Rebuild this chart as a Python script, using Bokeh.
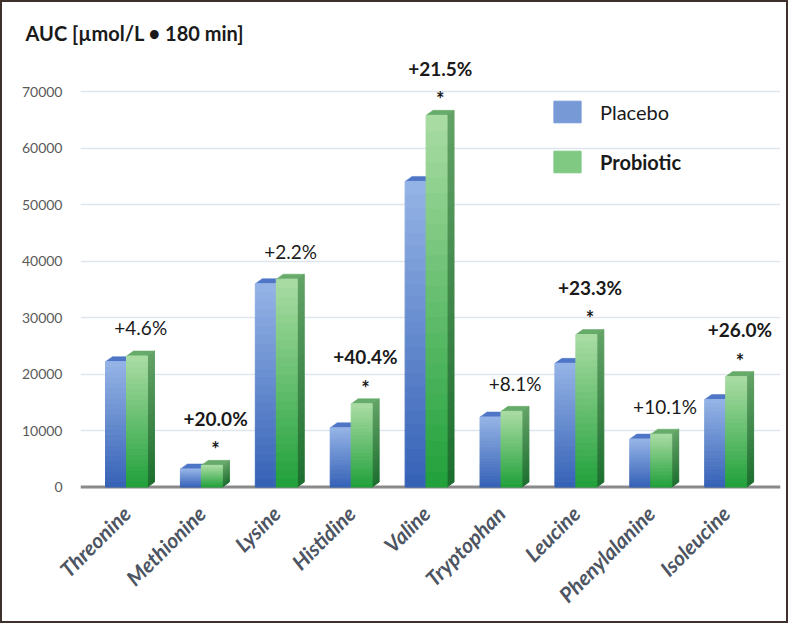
import math
from bokeh.plotting import figure
from bokeh.models import ColumnDataSource, Range1d, FixedTicker, Legend, LegendItem, Span
from bokeh.core.properties import value
from bokeh.embed import file_html
from bokeh.resources import INLINE

# ---------------- data ----------------
amino_acids = ["Threonine", "Methionine", "Lysine", "Histidine", "Valine",
               "Tryptophan", "Leucine", "Phenylalanine", "Isoleucine"]
placebo = [22200, 3200, 36000, 10500, 54100, 12400, 21900, 8500, 15500]
probiotic = [23200, 3840, 36800, 14750, 65800, 13400, 27000, 9360, 19550]
change_labels = ["+4.6%", "+20.0%", "+2.2%", "+40.4%", "+21.5%",
                 "+8.1%", "+23.3%", "+10.1%", "+26.0%"]
significant = [False, True, False, True, True, False, True, False, True]
y_ticks = [0, 10000, 20000, 30000, 40000, 50000, 60000, 70000]
series_names = ["Placebo", "Probiotic"]

# ---------------- style ----------------
FONT = "Lato"
BAR_HALF = 0.14          # half width of one bar (category units)
DX = 0.093               # 3D depth in x (category units)
DY = 880                 # 3D depth in y (data units)
N = 24                   # gradient slices

PLA_BOTTOM, PLA_TOP = "#3561b6", "#95b4e6"
PRO_BOTTOM, PRO_TOP = "#20a03a", "#aadca4"
PRO_SIDE_BOTTOM, PRO_SIDE_TOP = "#1c6e2e", "#62a266"
PLA_CAP, PRO_CAP = "#4f76c6", "#66ab69"


def hex2rgb(h):
    return tuple(int(h[i:i + 2], 16) for i in (1, 3, 5))


def mix(c0, c1, t):
    a, b = hex2rgb(c0), hex2rgb(c1)
    return "#%02x%02x%02x" % tuple(int(round(a[j] + (b[j] - a[j]) * t)) for j in range(3))


idx = list(range(len(amino_acids)))


def front_source(offset, vals, c_bot, c_top):
    d = dict(left=[], right=[], bottom=[], top=[], color=[])
    for i, v in zip(idx, vals):
        for k in range(N):
            d["left"].append(i + offset - BAR_HALF)
            d["right"].append(i + offset + BAR_HALF)
            d["bottom"].append(v * k / N)
            d["top"].append(v * (k + 1) / N)
            d["color"].append(mix(c_bot, c_top, (k + 0.5) / N))
    return ColumnDataSource(d)


def side_source(offset, vals, c_bot, c_top):
    d = dict(xs=[], ys=[], color=[])
    for i, v in zip(idx, vals):
        xr = i + offset + BAR_HALF
        for k in range(N):
            b, t = v * k / N, v * (k + 1) / N
            d["xs"].append([xr, xr + DX, xr + DX, xr])
            d["ys"].append([b, b + DY, t + DY, t])
            d["color"].append(mix(c_bot, c_top, (k + 0.5) / N))
    return ColumnDataSource(d)


def cap_source(offset, vals):
    d = dict(xs=[], ys=[])
    for i, v in zip(idx, vals):
        xl, xr = i + offset - BAR_HALF, i + offset + BAR_HALF
        d["xs"].append([xl, xl + DX, xr + DX, xr])
        d["ys"].append([v, v + DY, v + DY, v])
    return ColumnDataSource(d)


# ---------------- figure ----------------
W, H = 788, 623
p = figure(width=W, height=H, output_backend="svg", toolbar_location=None,
           x_range=Range1d(-0.614, 8.732), y_range=Range1d(-1500, 75500),
           min_border_left=78, min_border_right=10, min_border_top=58,
           min_border_bottom=130)
p.styles = {"border": "2px solid #3e302b"}
p.outline_line_color = None
p.background_fill_color = "white"
p.border_fill_color = "white"

p.title.text = "AUC [µmol/L • 180 min]"
p.title.text_font = FONT
p.title.text_font_size = "20px"
p.title.text_font_style = "bold"
p.title.text_color = "#1a1a1a"
p.title.align = "left"
p.title.offset = -55
p.title.standoff = 32

# axes
p.xaxis.ticker = FixedTicker(ticks=idx)
p.xaxis.major_label_overrides = {i: n for i, n in zip(idx, amino_acids)}
p.xaxis.major_label_orientation = math.pi / 4
p.xaxis.major_label_text_font = FONT
p.xaxis.major_label_text_font_style = "bold italic"
p.xaxis.major_label_text_font_size = "21px"
p.xaxis.major_label_text_color = "#4d5462"
p.xaxis.major_label_standoff = 8
p.yaxis.ticker = FixedTicker(ticks=y_ticks)
p.yaxis.major_label_text_font = FONT
p.yaxis.major_label_text_font_size = "14px"
p.yaxis.major_label_text_color = "#5a5a5a"
p.yaxis.major_label_standoff = 12
for ax in (p.xaxis, p.yaxis):
    ax.axis_line_color = None
    ax.major_tick_line_color = None
    ax.minor_tick_line_color = None

p.xgrid.grid_line_color = None
p.ygrid.grid_line_color = "#dfe5ee"
p.ygrid.grid_line_width = 1.3

floor = Span(location=0, dimension="width", line_color="#8a8a8a", line_width=3, level="underlay")
p.add_layout(floor)

# placebo
p.patches(xs="xs", ys="ys", source=cap_source(-BAR_HALF, placebo),
          fill_color=PLA_CAP, line_color=PLA_CAP, line_width=0.5)
r_pla = p.quad(left="left", right="right", bottom="bottom", top="top",
               source=front_source(-BAR_HALF, placebo, PLA_BOTTOM, PLA_TOP),
               fill_color="color", line_color="color", line_width=1)
# probiotic
p.patches(xs="xs", ys="ys", source=side_source(BAR_HALF, probiotic, PRO_SIDE_BOTTOM, PRO_SIDE_TOP),
          fill_color="color", line_color="color", line_width=1)
p.patches(xs="xs", ys="ys", source=cap_source(BAR_HALF, probiotic),
          fill_color=PRO_CAP, line_color=PRO_CAP, line_width=0.5)
r_pro = p.quad(left="left", right="right", bottom="bottom", top="top",
               source=front_source(BAR_HALF, probiotic, PRO_BOTTOM, PRO_TOP),
               fill_color="color", line_color="color", line_width=1)

# change labels
lab_x = [i + BAR_HALF + 0.05 for i in idx]
norm = ColumnDataSource(dict(
    x=[x for x, s in zip(lab_x, significant) if not s],
    y=[v for v, s in zip(probiotic, significant) if not s],
    t=[t for t, s in zip(change_labels, significant) if not s]))
sig = ColumnDataSource(dict(
    x=[x for x, s in zip(lab_x, significant) if s],
    y=[v for v, s in zip(probiotic, significant) if s],
    t=[t for t, s in zip(change_labels, significant) if s],
    star=["*" for s in significant if s]))
p.text(x="x", y="y", text="t", source=norm, text_font=value(FONT), text_font_size="19px",
       text_color="#1a1a1a", text_align="center", text_baseline="middle", y_offset=-28)
p.text(x="x", y="y", text="t", source=sig, text_font=value(FONT), text_font_size="19px",
       text_font_style="bold", text_color="#1a1a1a", text_align="center",
       text_baseline="middle", y_offset=-47)
p.text(x="x", y="y", text="star", source=sig, text_font=value(FONT), text_font_size="20px",
       text_font_style="bold", text_color="#1a1a1a", text_align="center",
       text_baseline="middle", y_offset=-16)

# legends
leg1 = Legend(items=[LegendItem(label=series_names[0], renderers=[r_pla], index=16)],
              location=(470, 370))
leg2 = Legend(items=[LegendItem(label=series_names[1], renderers=[r_pro], index=16)],
              location=(470, 320), label_text_font_style="bold")
for lg in (leg1, leg2):
    lg.border_line_color = None
    lg.background_fill_alpha = 0
    lg.padding = 0
    lg.margin = 0
    lg.glyph_width = 34
    lg.glyph_height = 27
    lg.label_standoff = 16
    lg.label_text_font = FONT
    lg.label_text_font_size = "20px"
    lg.label_text_color = "#1a1a1a"
    lg.label_height = 27
    p.add_layout(lg, "center")

open("out.html", "w").write(file_html(p, INLINE))
